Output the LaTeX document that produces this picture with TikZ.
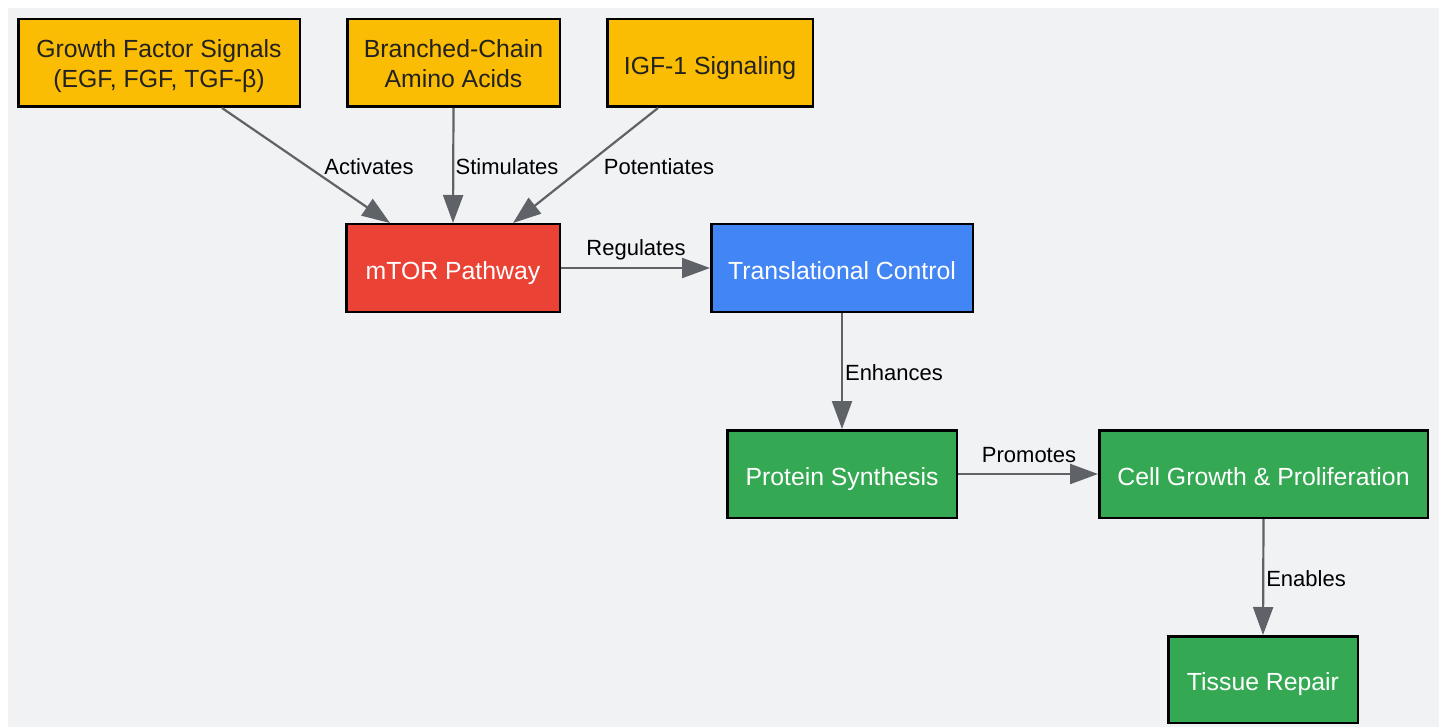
\documentclass[tikz,border=0pt]{standalone}
\usepackage{fontspec}
\setmainfont{Liberation Sans}
\usetikzlibrary{arrows.meta}
\definecolor{bgc}{HTML}{F1F2F4}
\definecolor{yel}{HTML}{FBBC04}
\definecolor{redc}{HTML}{EA4335}
\definecolor{bluec}{HTML}{4285F4}
\definecolor{greenc}{HTML}{34A853}
\definecolor{edgec}{HTML}{5F6368}
\definecolor{darktext}{HTML}{222222}
\tikzset{
  box/.style={draw=black, line width=2.5pt, inner sep=0pt, minimum height=87.5pt,
    align=center, font=\fontsize{24.8}{30}\selectfont, text=white,
    text height=24pt, text depth=1.4pt},
  twoline/.style={text height=50pt, text depth=1.4pt},
  ybox/.style={box, fill=yel, text=darktext},
  lbl/.style={inner sep=0pt, font=\fontsize{22}{26}\selectfont, text=black},
  conn/.style={draw=edgec, line width=2.2pt, -{Triangle[length=28pt,width=20pt]}},
}
\begin{document}
\begin{tikzpicture}[x=1pt,y=-1pt]
\useasboundingbox (0,0) rectangle (1442,727);
\fill[bgc] (8,8) rectangle (1439,727);
% nodes
\node[ybox, twoline, minimum width=281.5pt] (g) at (159,63) {Growth Factor Signals\\(EGF, FGF, TGF-β)};
\node[ybox, twoline, minimum width=212.5pt] (b) at (453.5,63) {Branched-Chain\\Amino Acids};
\node[ybox, minimum width=205.5pt] (i) at (710,63) {IGF-1 Signaling};
\node[box, fill=redc, minimum width=213.5pt] (m) at (453,268) {mTOR Pathway};
\node[box, fill=bluec, minimum width=261.5pt] (t) at (842,268) {Translational Control};
\node[box, fill=greenc, minimum width=229.5pt] (p) at (842,474) {Protein Synthesis};
\node[box, fill=greenc, minimum width=328.5pt] (c) at (1263.5,474) {Cell Growth \& Proliferation};
\node[box, fill=greenc, minimum width=189.5pt, minimum height=86.5pt] (r) at (1263,679.5) {Tissue Repair};
% connectors
\draw[conn] ([xshift=63pt]g.south) -- ([xshift=-63pt]m.north);
\draw[conn] (b.south) -- (m.north);
\draw[conn] ([xshift=-52pt]i.south) -- ([xshift=60pt]m.north);
\draw[conn] (m.east) -- (t.west);
\draw[conn] (t.south) -- (p.north);
\draw[conn] (p.east) -- (c.west);
\draw[conn] (c.south) -- (r.north);
% labels
\node[lbl] (l1) at (369,167) {Activates};
\node[lbl] (l2) at (507,167) {Stimulates};
\node[lbl] (l3) at (659,167) {Potentiates};
\node[lbl] (l4) at (636,250) {Regulates};
\node[lbl] (l5) at (894,373) {Enhances};
\node[lbl] (l6) at (1029,455) {Promotes};
\node[lbl] (l7) at (1306,579) {Enables};
\end{tikzpicture}
\end{document}
